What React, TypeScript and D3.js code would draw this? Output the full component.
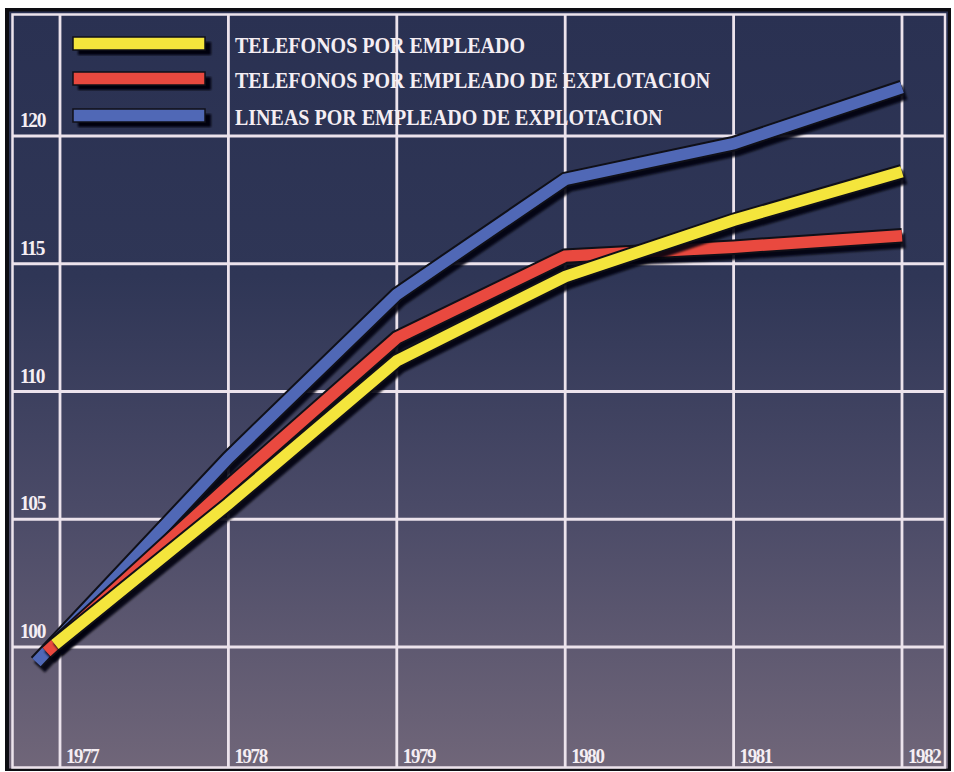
import React from 'react';
import * as d3 from 'd3';

const years = [1977, 1978, 1979, 1980, 1981, 1982];
const yTicks = [100, 105, 110, 115, 120];

const seriesNames = [
  'TELEFONOS POR EMPLEADO',
  'TELEFONOS POR EMPLEADO DE EXPLOTACION',
  'LINEAS POR EMPLEADO DE EXPLOTACION',
];
const seriesColors = ['#f4e53c', '#e9493f', '#5068b6'];

const yellowYears = [1976.97, 1978, 1979, 1980, 1981, 1982];
const telefonosPorEmpleado = [100.1, 105.6, 111.2, 114.5, 116.7, 118.6];

const redYears = [1976.92, 1978, 1979, 1980, 1981, 1982];
const telefonosExplotacion = [99.8, 106.3, 112.1, 115.3, 115.65, 116.1];

const blueYears = [1976.86, 1978, 1979, 1980, 1981, 1982];
const lineasExplotacion = [99.4, 107.4, 113.8, 118.3, 119.7, 121.9];

const W = 954;
const H = 772;

export default function App() {
  const x = d3.scaleLinear().domain([1977, 1982]).range([60, 902]);
  const y = d3.scaleLinear().domain([100, 120]).range([647, 136]);

  const line = d3
    .line<[number, number]>()
    .x((d) => x(d[0]))
    .y((d) => y(d[1]))
    .curve(d3.curveLinear);

  const series = [
    { name: seriesNames[2], color: seriesColors[2], xs: blueYears, vs: lineasExplotacion },
    { name: seriesNames[1], color: seriesColors[1], xs: redYears, vs: telefonosExplotacion },
    { name: seriesNames[0], color: seriesColors[0], xs: yellowYears, vs: telefonosPorEmpleado },
  ];

  const legendY = [37, 72, 109];
  const legendBase = [53, 88, 125];

  const font = '"Liberation Serif", "Times New Roman", serif';
  const textColor = '#f5eef3';
  const gridColor = '#ece3ec';

  const Label = ({
    tx,
    ty,
    children,
    size,
    sx,
    ls,
  }: {
    tx: number;
    ty: number;
    children: React.ReactNode;
    size: number;
    sx: number;
    ls: number;
  }) => (
    <g transform={`translate(${tx},${ty}) scale(${sx},1)`}>
      <text
        x={0}
        y={0}
        fill={textColor}
        fontFamily={font}
        fontWeight="bold"
        fontSize={size}
        letterSpacing={ls}
      >
        {children}
      </text>
    </g>
  );

  return (
    <svg
      width={W}
      height={H}
      viewBox={`0 0 ${W} ${H}`}
      style={{ position: 'absolute', left: 0, top: 0, background: '#fff' }}
    >
      <defs>
        <linearGradient id="bg" x1="0" y1="0" x2="0" y2="1">
          <stop offset="0" stopColor="#2a3152" />
          <stop offset="0.35" stopColor="#2f3656" />
          <stop offset="0.65" stopColor="#4a4a67" />
          <stop offset="1" stopColor="#706679" />
        </linearGradient>
        <filter id="blur" x="-5%" y="-5%" width="110%" height="110%">
          <feGaussianBlur stdDeviation="1" />
        </filter>
      </defs>

      {/* frame */}
      <rect x={5} y={8} width={946} height={763} fill="#0d0d12" />
      <rect x={9} y={11.5} width={939} height={757} fill="url(#bg)" />
      <rect
        x={12.5}
        y={14.5}
        width={932.5}
        height={753}
        fill="none"
        stroke={gridColor}
        strokeWidth={2.5}
      />

      {/* grid */}
      {years.map((yr) => (
        <line
          key={'v' + yr}
          x1={x(yr)}
          x2={x(yr)}
          y1={14.5}
          y2={767.5}
          stroke={gridColor}
          strokeWidth={2.8}
        />
      ))}
      {yTicks.map((t) => (
        <line
          key={'h' + t}
          x1={12.5}
          x2={945}
          y1={y(t)}
          y2={y(t)}
          stroke={gridColor}
          strokeWidth={2.8}
        />
      ))}

      {/* y labels */}
      {yTicks.map((t) => (
        <Label key={'yl' + t} tx={20} ty={y(t) - 9} size={22} sx={0.88} ls={-1.5}>
          {t}
        </Label>
      ))}

      {/* x labels */}
      {years.map((yr) => (
        <Label key={'xl' + yr} tx={x(yr) + 6} ty={763} size={22} sx={0.86} ls={-1.6}>
          {yr}
        </Label>
      ))}

      {/* lines */}
      {series.map((s) => {
        const pts = s.xs.map((xv, i) => [xv, s.vs[i]] as [number, number]);
        const d = line(pts) || '';
        return (
          <g key={s.name}>
            <path
              d={d}
              transform="translate(3,5)"
              fill="none"
              stroke="#05050a"
              strokeWidth={15}
              strokeLinejoin="miter"
              opacity={0.9}
              filter="url(#blur)"
            />
            <path
              d={d}
              fill="none"
              stroke="#101018"
              strokeWidth={15.5}
              strokeLinejoin="miter"
            />
            <path
              d={d}
              fill="none"
              stroke={s.color}
              strokeWidth={11.5}
              strokeLinejoin="miter"
            />
          </g>
        );
      })}

      {/* legend */}
      {[0, 1, 2].map((i) => (
        <g key={'lg' + i}>
          <rect
            x={78}
            y={legendY[i] + 5}
            width={133}
            height={13}
            fill="#05050a"
            filter="url(#blur)"
          />
          <rect
            x={73}
            y={legendY[i]}
            width={132}
            height={13}
            fill={seriesColors[i]}
            stroke="#101018"
            strokeWidth={1.5}
          />
          <Label tx={235} ty={legendBase[i]} size={23} sx={0.87} ls={0}>
            {seriesNames[i]}
          </Label>
        </g>
      ))}
    </svg>
  );
}
